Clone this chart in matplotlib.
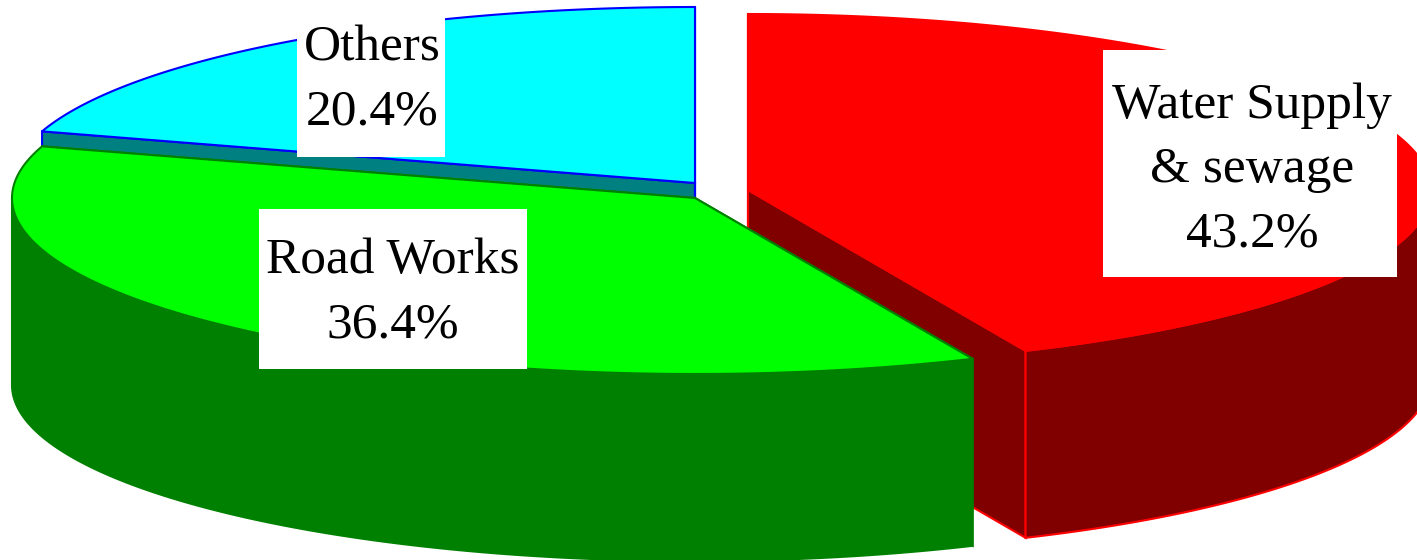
import numpy as np
import matplotlib
matplotlib.use("Agg")
import matplotlib.pyplot as plt
from matplotlib.patches import Rectangle

labels = ["Water Supply\n& sewage", "Road Works", "Others"]
shares = [43.2, 36.4, 20.4]

top_colors = ["#ff0000", "#00ff00", "#00ffff"]
wall_colors = ["#800000", "#008000", "#008080"]
edge_colors = ["#ff0000", "#008000", "#0000ff"]

# pie centres in image pixels, each slice is pulled out a bit
centers = [(748, 190), (695, 198), (695, 183)]
# white label boxes: left, top, width, height
label_boxes = [(1103, 50, 294, 227), (259, 209, 268, 160), (297, 14, 148, 143)]
label_pos = [(1252, 170), (393, 293), (372, 80)]

RX = 683
RY = 176
DEPTH = 187

plt.rcParams["font.family"] = ["Liberation Serif", "DejaVu Serif"]

fig = plt.figure(figsize=(14.17, 5.6), dpi=100)
ax = fig.add_axes([0, 0, 1, 1])
ax.set_xlim(0, 1417)
ax.set_ylim(560, 0)
ax.axis("off")

# angles go clockwise from 12 o'clock
ends = 90 - np.cumsum(shares) * 3.6
ends[:-1] -= 0.5  # the original's inner cuts sit slightly further round
starts = np.concatenate([[90], ends[:-1]])


def rim(cx, cy, a0, a1):
    t = np.radians(np.linspace(a0, a1, 200))
    return cx + RX * np.cos(t), cy - RY * np.sin(t)


# paint back to front: red, cyan, then green on top
for i in [0, 2, 1]:
    cx, cy = centers[i]
    x, y = rim(cx, cy, starts[i], ends[i])

    # cut faces
    for px, py in [(x[0], y[0]), (x[-1], y[-1])]:
        ax.fill([cx, px, px, cx], [cy, py, py + DEPTH, cy + DEPTH],
                facecolor=wall_colors[i], edgecolor=edge_colors[i], linewidth=1.5)

    # outer wall, only the part facing the viewer
    front = np.sin(np.radians(np.linspace(starts[i], ends[i], 200))) < 0
    if front.any():
        fx, fy = x[front], y[front]
        ax.fill(np.r_[fx, fx[::-1]], np.r_[fy, fy[::-1] + DEPTH],
                facecolor=wall_colors[i], edgecolor=edge_colors[i], linewidth=1.5)

    # top face
    ax.fill(np.r_[cx, x], np.r_[cy, y], facecolor=top_colors[i],
            edgecolor=edge_colors[i], linewidth=1.5, joinstyle="miter")

for name, share, (tx, ty), box in zip(labels, shares, label_pos, label_boxes):
    ax.add_patch(Rectangle(box[:2], box[2], box[3], facecolor="white", edgecolor="none", zorder=3))
    ax.text(tx, ty, f"{name}\n{share}%", fontsize=37, ha="center", va="center",
            color="black", linespacing=1.5, zorder=4)

fig.savefig("out.png", dpi=100)
